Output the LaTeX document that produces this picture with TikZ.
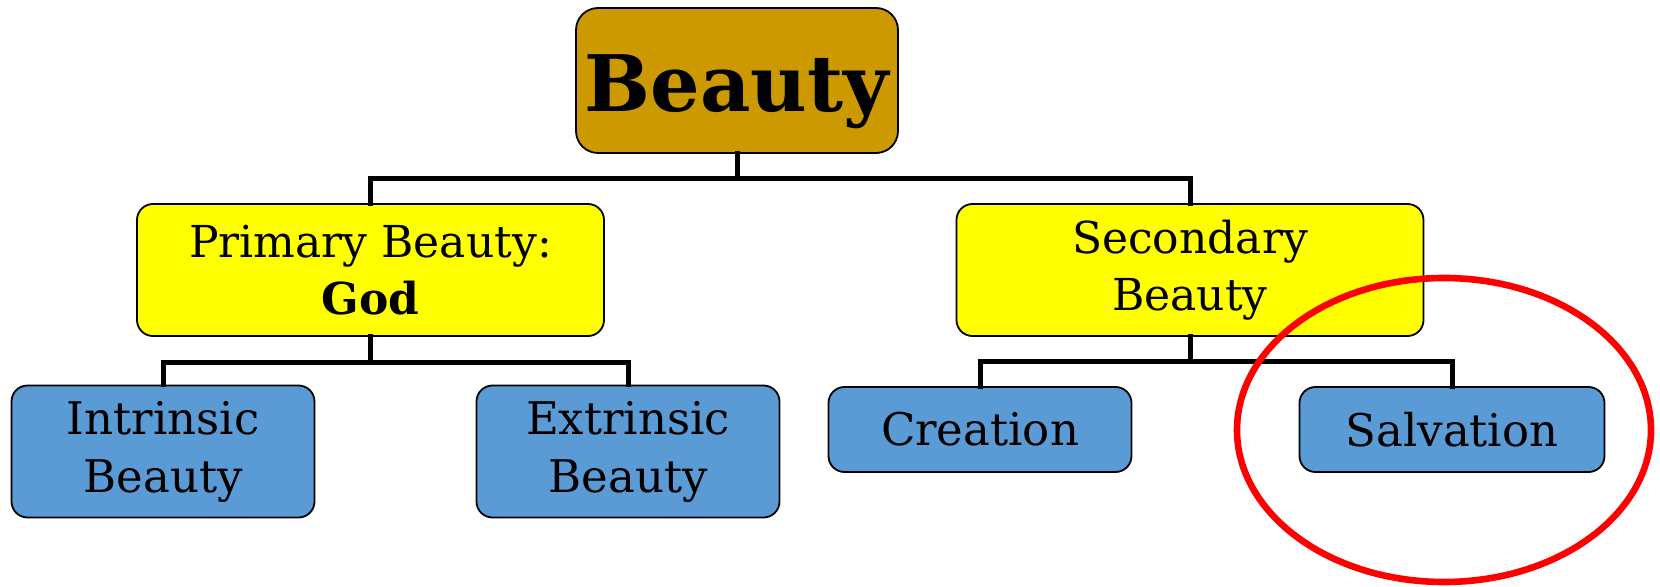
\documentclass[tikz,border=0pt]{standalone}
\usepackage{fontspec}
\setmainfont{DejaVu Serif}
\usetikzlibrary{shapes.geometric}
\definecolor{gold}{HTML}{CC9900}
\definecolor{yel}{HTML}{FFFF00}
\definecolor{blu}{HTML}{5B9BD5}
\definecolor{redc}{HTML}{FF0000}
\tikzset{
  box/.style={draw=black, line width=0.9pt, rounded corners=8pt, align=center, inner sep=0pt, text=black},
  topbox/.style={box, fill=gold, minimum width=161pt, minimum height=72.5pt, rounded corners=11pt, text height=32pt, text depth=0.5pt, font=\fontsize{39}{44}\selectfont\bfseries},
  midbox/.style={box, fill=yel, minimum width=233.5pt, minimum height=66pt, font=\fontsize{22}{28.5}\selectfont},
  leafbox/.style={box, fill=blu, minimum width=151.5pt, font=\fontsize{22.5}{29}\selectfont},
  conn/.style={line width=2.5pt, line cap=rect},
  hilite/.style={draw=redc, line width=3.3pt}
}
\begin{document}
\begin{tikzpicture}[x=0.5pt,y=-0.5pt]
\useasboundingbox (0,0) rectangle (1660,587);
\node[topbox] (beauty) at (737,80.5) {Beauty};
\node[midbox] (prim) at (370.5,270) {Primary Beauty:\\\textbf{God}};
\node[midbox] (sec) at (1190,270) {Secondary\\Beauty};
\node[leafbox, minimum height=66pt] (intr) at (163,451.5) {Intrinsic\\Beauty};
\node[leafbox, minimum height=66pt] (extr) at (628,451.5) {Extrinsic\\Beauty};
\node[leafbox, minimum height=42.5pt] (crea) at (980,429.5) {Creation};
\node[leafbox, minimum height=42.5pt, minimum width=152.5pt] (salv) at (1452,429.5) {Salvation};
\coordinate (bus1) at (737,179);
\coordinate (bus2) at (370.5,363);
\coordinate (bus3) at (1190,362);
\draw[conn] (beauty.south) -- (beauty.south |- bus1);
\draw[conn] (prim.north) |- (bus1) -| (sec.north);
\draw[conn] (prim.south) -- (prim.south |- bus2);
\draw[conn] (intr.north) |- (bus2) -| (extr.north);
\draw[conn] (sec.south) -- (sec.south |- bus3);
\draw[conn] (crea.north) |- (bus3) -| (salv.north);
\node[hilite, ellipse, minimum width=207pt, minimum height=152pt, inner sep=0pt] (circ) at (1444,430) {};
\end{tikzpicture}
\end{document}
